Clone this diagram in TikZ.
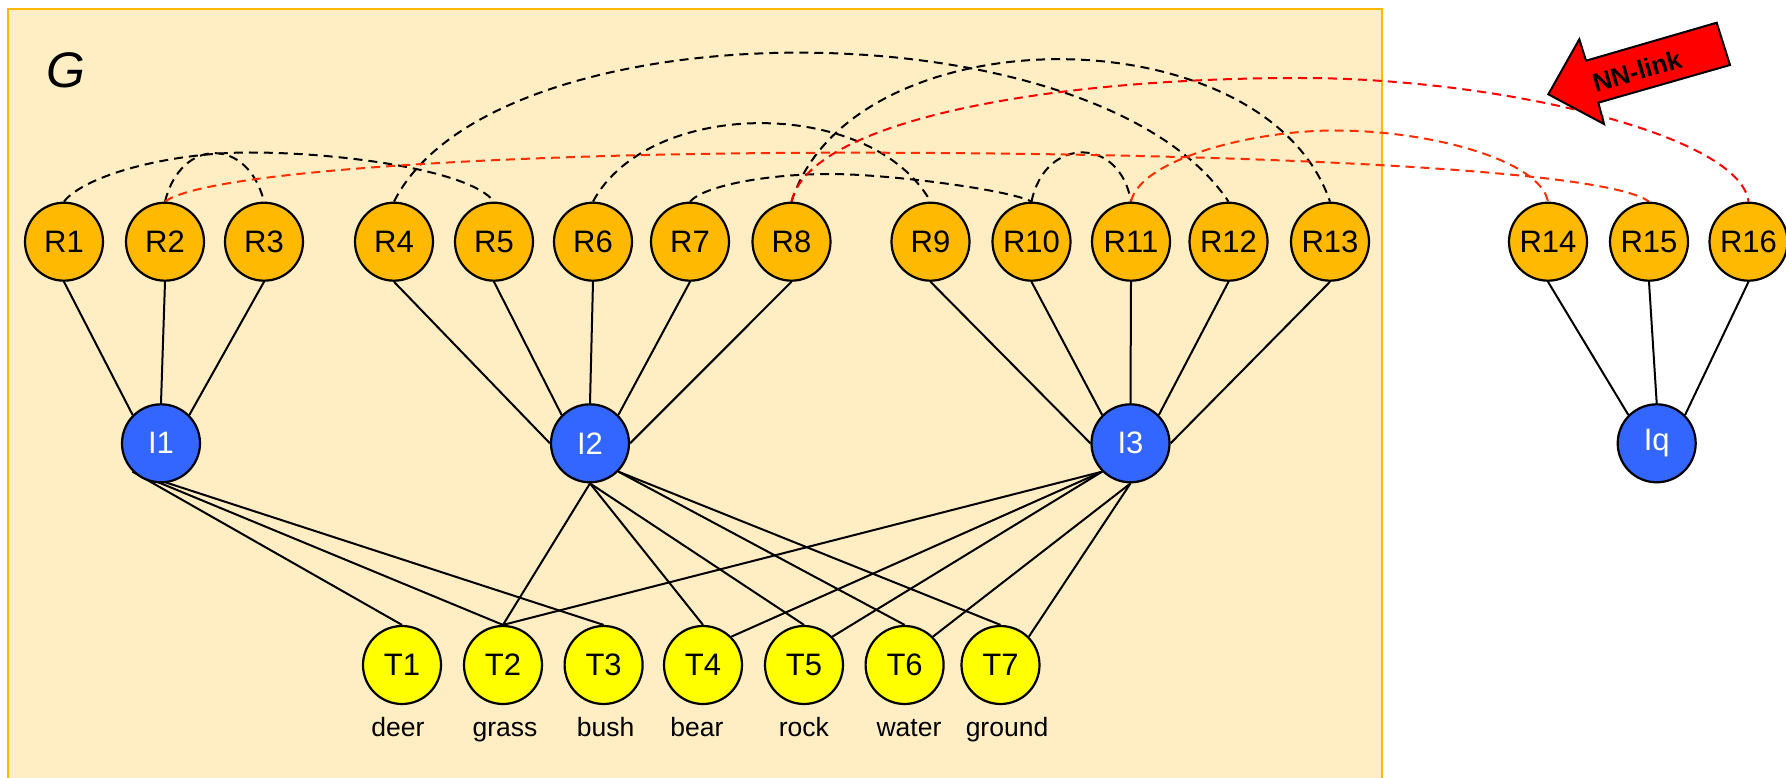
\documentclass[tikz,border=0pt]{standalone}
\usepackage{fontspec}
\setmainfont{Liberation Sans}
\pgfdeclarelayer{bg}
\pgfdeclarelayer{edges}
\pgfsetlayers{bg,edges,main}
\definecolor{panel}{RGB}{255,237,196}
\definecolor{gold}{RGB}{255,185,0}
\definecolor{blueI}{RGB}{51,102,255}
\definecolor{yellowT}{RGB}{255,255,0}
\definecolor{nnred}{RGB}{255,0,0}
\definecolor{nnorange}{RGB}{255,45,0}
\begin{document}
\begin{tikzpicture}[x=1pt,y=-1pt,
  rnode/.style={circle, draw=black, line width=2.2pt, fill=gold, minimum size=78pt,
                inner sep=0pt, font=\fontsize{31}{36}\selectfont},
  inode/.style={rnode, fill=blueI, text=white},
  tnode/.style={rnode, fill=yellowT},
  word/.style={anchor=base, inner sep=0pt, font=\fontsize{26.5}{30}\selectfont},
  link/.style={line width=2pt, draw=black},
  sim/.style={line width=2pt, draw=black, dash pattern=on 9pt off 6pt},
  nn/.style={sim, draw=nnred},
  nnb/.style={sim, draw=nnorange}]
\useasboundingbox (0,0) rectangle (1786,778);

% panel of the graph G
\begin{pgfonlayer}{bg}
  \draw[gold, fill=panel, line width=2.5pt] (8,9) rectangle (1382,800);
\end{pgfonlayer}
\node[anchor=base, inner sep=0pt, font=\itshape\fontsize{50}{56}\selectfont] (glabel) at (66,87.5) {G};

% region nodes
\foreach \n/\x in {1/64,2/165,3/264,4/394,5/494,6/593,7/690,8/791.5,9/930.5,
                   10/1031.5,11/1131,12/1228.5,13/1330,14/1548,15/1649,16/1748.5}
  \node[rnode] (R\n) at (\x,241.7) {R\n};

% image nodes
\node[inode] (I1) at (161,443.3) {I1};
\node[inode] (I2) at (590,443.3) {I2};
\node[inode] (I3) at (1130.5,443.3) {I3};
\node[inode] (Iq) at (1656.7,443.3) {Iq};

% term nodes and their words
\foreach \n/\x in {1/402,2/503,3/603.6,4/703,5/804,6/904.6,7/1000.5}
  \node[tnode] (T\n) at (\x,665) {T\n};
\node[word] (w1) at (398,736.7) {deer};
\node[word] (w2) at (505,736.7) {grass};
\node[word] (w3) at (605.6,736.7) {bush};
\node[word] (w4) at (697,736.7) {bear};
\node[word] (w5) at (803.8,736.7) {rock};
\node[word] (w6) at (909,736.7) {water};
\node[word] (w7) at (1007,736.7) {ground};

\begin{pgfonlayer}{edges}
  % regions to images
  \draw[link] (R1.south) -- (I1.135);
  \draw[link] (R2.south) -- (I1.north);
  \draw[link] (R3.south) -- (I1.45);
  \draw[link] (R4.south) -- (I2.west);
  \draw[link] (R5.south) -- (I2.135);
  \draw[link] (R6.south) -- (I2.north);
  \draw[link] (R7.south) -- (I2.45);
  \draw[link] (R8.south) -- (I2.east);
  \draw[link] (R9.south) -- (I3.west);
  \draw[link] (R10.south) -- (I3.135);
  \draw[link] (R11.south) -- (I3.north);
  \draw[link] (R12.south) -- (I3.45);
  \draw[link] (R13.south) -- (I3.east);
  \draw[link] (R14.south) -- (Iq.135);
  \draw[link] (R15.south) -- (Iq.north);
  \draw[link] (R16.south) -- (Iq.45);
  % images to terms
  \draw[link] (I1.-135) -- (T1.north);
  \draw[link] (I1.-135) -- (T2.north);
  \draw[link] (I1.-135) -- (T3.north);
  \draw[link] (I2.south) -- (T2.north);
  \draw[link] (I2.south) -- (T4.north);
  \draw[link] (I2.south) -- (T5.north);
  \draw[link] (I2.-45) -- (T6.north);
  \draw[link] (I2.-45) -- (T7.north);
  \draw[link] (I3.-135) -- (T2.north);
  \draw[link] (I3.-135) -- (T4.45);
  \draw[link] (I3.-135) -- (T5.45);
  \draw[link] (I3.south) -- (T6.45);
  \draw[link] (I3.south) -- (T7.45);
  % similarity links inside G
  \draw[sim] (R1.north) .. controls (85,175) and (170,152.5) .. (250,152.5)
             .. controls (340,152.5) and (470,170) .. (R5.north);
  \draw[sim] (R2.north) .. controls (181,137) and (248,137) .. (R3.north);
  \draw[sim] (R4.north) .. controls (494,3) and (1096,3) .. (R12.north);
  \draw[sim] (R6.north) .. controls (649,97) and (872,97) .. (R9.north);
  \draw[sim] (R7.north) .. controls (705,185) and (770,174) .. (829,174)
             .. controls (890,174) and (1010,190) .. (R10.north);
  \draw[sim] (R8.north) .. controls (852,11.7) and (1265,11.7) .. (R13.north);
  \draw[sim] (R10.north) .. controls (1045,136) and (1120,136) .. (R11.north);
  % nearest-neighbour links to the query regions
  \draw[nnb] (R2.north) .. controls (204.6,172) and (500,152.7) .. (850,152.7)
             .. controls (1200,152.7) and (1603,167) .. (R15.north);
  \draw[nn] (R8.north) .. controls (810,120) and (1050,78) .. (1300,78)
            .. controls (1500,78) and (1740,135) .. (R16.north);
  \draw[nnb] (R11.north) .. controls (1140,160) and (1250,130.5) .. (1335,130.5)
             .. controls (1430,130.5) and (1540,160) .. (R14.north);
\end{pgfonlayer}

% NN-link block arrow
\draw[line width=2pt, fill=nnred, line join=miter]
  (1548.3,94.3) -- (1579.3,39.3) -- (1586,60.7) -- (1716.7,22.7)
  -- (1730,65) -- (1598.3,102.7) -- (1604,124) -- cycle;
\node[rotate=16, inner sep=0pt, font=\bfseries\fontsize{26}{30}\selectfont] (nnlabel) at (1637,71) {NN-link};
\end{tikzpicture}
\end{document}
